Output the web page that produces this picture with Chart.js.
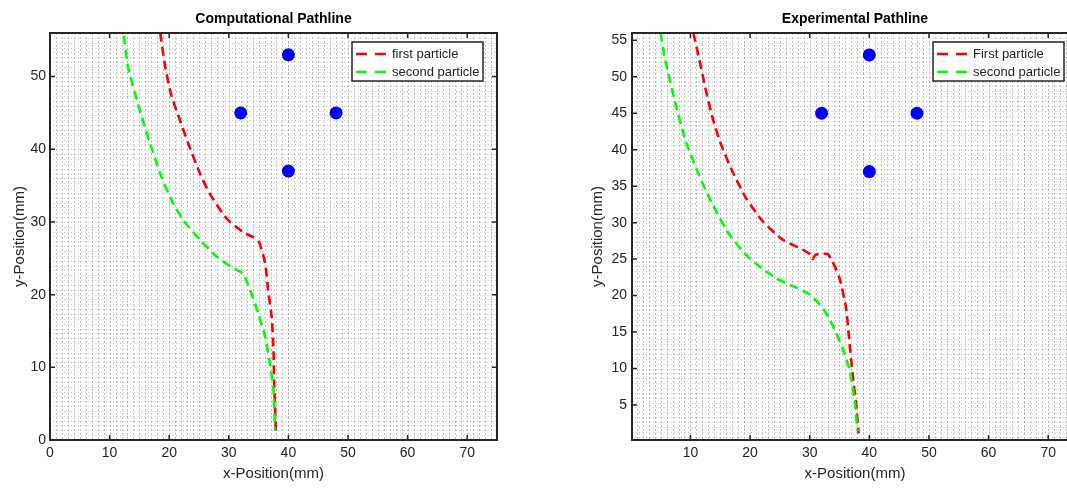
<!DOCTYPE html>
<html><head><meta charset="utf-8">
<script src="https://cdn.jsdelivr.net/npm/chart.js@4"></script>
<style>
html,body{margin:0;padding:0;overflow:hidden;background:#fff;width:1067px;height:489px;position:relative}
#c1{position:absolute;left:0;top:0}
#c2{position:absolute;left:540px;top:0}
</style></head>
<body>
<canvas id="c1" width="520" height="489"></canvas>
<canvas id="c2" width="560" height="489"></canvas>
<script>
// ---- data ----
const markerX = [40, 32, 48, 40];
const markerY = [53, 45, 45, 37];

const compFirstX  = [18.5, 19.3, 20.3, 21.8, 23.2, 25.2, 26.8, 29.6, 32.4, 34.1, 35.1, 36.1, 36.6, 37.2, 37.5, 37.6, 37.9];
const compFirstY  = [56.0, 51.5, 47.6, 44.0, 40.8, 36.6, 33.9, 30.5, 28.6, 27.9, 27.2, 24.3, 20.6, 16.9, 12.4, 8.2, 1.1];
const compSecondX = [12.4, 13.1, 15.1, 16.8, 18.7, 20.4, 22.4, 25.2, 28.0, 30.8, 32.4, 33.6, 34.95, 36.1, 36.9, 37.5, 37.75];
const compSecondY = [55.6, 51.3, 45.3, 40.8, 36.2, 33.0, 30.2, 27.5, 25.2, 23.6, 22.9, 20.6, 17.4, 14.2, 10.5, 6.9, 1.4];

const expFirstX  = [10.5, 11.4, 12.6, 13.7, 15.1, 17.0, 19.3, 22.1, 25.4, 28.8, 30.2, 30.5, 31.0, 33.0, 33.8, 35.0, 36.1, 36.6, 37.2, 37.8, 38.2];
const expFirstY  = [56.0, 52.7, 48.1, 44.4, 40.8, 37.1, 33.4, 30.2, 27.7, 26.3, 25.6, 25.0, 25.6, 25.7, 24.7, 22.4, 18.3, 14.2, 9.2, 5.0, 1.1];
const expSecondX = [5.0, 5.8, 7.5, 9.2, 11.4, 13.7, 16.5, 19.8, 24.3, 27.7, 29.9, 32.2, 33.8, 35.5, 36.6, 37.5, 38.0];
const expSecondY = [56.0, 52.2, 46.3, 41.2, 36.6, 32.5, 28.4, 25.2, 22.4, 21.1, 20.2, 18.3, 16.0, 12.8, 10.1, 5.9, 1.4];

const titles = ['Computational Pathline', 'Experimental Pathline'];
const legendLeft = ['first particle', 'second particle'];
const legendRight = ['First particle', 'second particle'];
const xTitle = 'x-Position(mm)';
const yTitle = 'y-Position(mm)';

// ---- helpers ----
const FONT = "'Liberation Sans', Arial, Helvetica, sans-serif";
Chart.defaults.font.family = FONT;
Chart.defaults.color = '#262626';

function pts(xs, ys) { return xs.map((x, i) => ({x: x, y: ys[i]})); }

const framePlugin = {
  id: 'frame',
  beforeDraw(chart) {
    const {ctx, chartArea: a, scales: {x, y}} = chart;
    ctx.save();
    ctx.beginPath();
    ctx.rect(a.left, a.top, a.right - a.left, a.bottom - a.top);
    ctx.clip();
    ctx.lineWidth = 1;
    ctx.strokeStyle = 'rgba(140,140,140,0.7)';
    ctx.setLineDash([1.5, 2.5]);
    for (let v = Math.ceil(x.min); v <= x.max; v += 1) {
      const p = Math.round(x.getPixelForValue(v)) + 0.5;
      ctx.beginPath(); ctx.moveTo(p, a.top); ctx.lineTo(p, a.bottom); ctx.stroke();
    }
    ctx.strokeStyle = 'rgba(140,140,140,0.55)';
    ctx.setLineDash([1, 2.5]);
    for (let v = Math.ceil(y.min * 1.5) / 1.5; v <= y.max; v += 2 / 3) {
      const p = Math.round(y.getPixelForValue(v)) + 0.5;
      ctx.beginPath(); ctx.moveTo(a.left, p); ctx.lineTo(a.right, p); ctx.stroke();
    }
    ctx.restore();
  },
  afterDraw(chart, args, opts) {
    const {ctx, chartArea: a, scales: {x, y}} = chart;
    ctx.save();
    ctx.setLineDash([]);
    ctx.strokeStyle = '#262626';
    ctx.lineWidth = 1.5;
    x.ticks.forEach(t => {
      const p = x.getPixelForValue(t.value);
      ctx.beginPath();
      ctx.moveTo(p, a.bottom); ctx.lineTo(p, a.bottom - 5);
      ctx.moveTo(p, a.top); ctx.lineTo(p, a.top + 5);
      ctx.stroke();
    });
    y.ticks.forEach(t => {
      const p = y.getPixelForValue(t.value);
      ctx.beginPath();
      ctx.moveTo(a.left, p); ctx.lineTo(a.left + 5, p);
      ctx.moveTo(a.right, p); ctx.lineTo(a.right - 5, p);
      ctx.stroke();
    });
    ctx.lineWidth = 2;
    ctx.strokeRect(a.left, a.top, a.right - a.left, a.bottom - a.top);

    // legend box
    const W = 131, H = 39;
    const L = a.right - 14 - W, T = a.top + 9;
    ctx.fillStyle = '#fff';
    ctx.fillRect(L, T, W, H);
    ctx.lineWidth = 1.5;
    ctx.strokeStyle = '#262626';
    ctx.strokeRect(L, T, W, H);
    const items = chart.data.datasets.filter(d => d.inLegend).sort((p, q) => p.legendIndex - q.legendIndex);
    items.forEach((ds, i) => {
      const cy = T + 12 + i * 18;
      ctx.strokeStyle = ds.borderColor;
      ctx.lineWidth = 2.5;
      ctx.setLineDash([11, 8]);
      ctx.beginPath(); ctx.moveTo(L + 4, cy); ctx.lineTo(L + 35, cy); ctx.stroke();
      ctx.setLineDash([]);
      ctx.fillStyle = '#262626';
      ctx.font = '13px ' + FONT;
      ctx.textBaseline = 'middle';
      ctx.textAlign = 'left';
      ctx.fillText(ds.label, L + 40, cy);
    });
    ctx.restore();
  }
};

function makeChart(id, cfg) {
  const datasets = [
    {label: 'markers', data: pts(markerX, markerY), showLine: false, pointRadius: 6.5,
     pointBackgroundColor: '#0000ff', pointBorderWidth: 0, order: 0},
    {label: cfg.labels[1], data: pts(cfg.sx, cfg.sy), showLine: true, borderColor: '#00ff00',
     borderWidth: 2.6, borderDash: [9, 5], pointRadius: 0, tension: 0.2, order: 1, inLegend: true, legendIndex: 1},
    {label: cfg.labels[0], data: pts(cfg.fx, cfg.fy), showLine: true, borderColor: '#ff0000',
     borderWidth: 2.6, borderDash: [9, 5], pointRadius: 0, tension: 0.2, order: 2, inLegend: true, legendIndex: 0}
  ];
  return new Chart(document.getElementById(id), {
    type: 'scatter',
    data: {datasets: datasets},
    plugins: [framePlugin],
    options: {
      responsive: false,
      animation: false,
      events: [],
      layout: {padding: {left: 0, right: cfg.padRight, top: 0, bottom: 0}},
      plugins: {
        legend: {display: false},
        tooltip: {enabled: false},
        title: {display: true, text: cfg.title, fullSize: false, color: '#000',
                font: {size: 14, weight: 'bold'}, padding: {top: 10.6, bottom: 5.6}}
      },
      scales: {
        x: {
          type: 'linear', min: cfg.xmin, max: 75,
          grid: {display: false, drawTicks: false}, border: {display: false},
          ticks: {stepSize: 10, includeBounds: false, padding: 5, font: {size: 14}, color: '#262626', maxRotation: 0},
          title: {display: true, text: xTitle, font: {size: 15}, color: '#262626', padding: {top: 0, bottom: 6}},
          afterFit(s) { s.height = 49; }
        },
        y: {
          type: 'linear', min: cfg.ymin, max: 56,
          grid: {display: false, drawTicks: false}, border: {display: false},
          ticks: {stepSize: cfg.ystep, includeBounds: false, padding: cfg.yPad, font: {size: 14}, color: '#262626'},
          title: {display: true, text: yTitle, font: {size: 15}, color: '#262626', padding: {top: cfg.yTitlePad, bottom: 0}},
          afterFit(s) { s.width = cfg.yWidth; }
        }
      }
    }
  });
}

makeChart('c1', {title: titles[0], labels: legendLeft, fx: compFirstX, fy: compFirstY, sx: compSecondX, sy: compSecondY,
  xmin: 0, ymin: 0, ystep: 10, yWidth: 50, yPad: 4, yTitlePad: 11, padRight: 23});
makeChart('c2', {title: titles[1], labels: legendRight, fx: expFirstX, fy: expFirstY, sx: expSecondX, sy: expSecondY,
  xmin: 0.2, ymin: 0.2, ystep: 5, yWidth: 92, yPad: 5, yTitlePad: 49, padRight: 22});
</script>
</body></html>
